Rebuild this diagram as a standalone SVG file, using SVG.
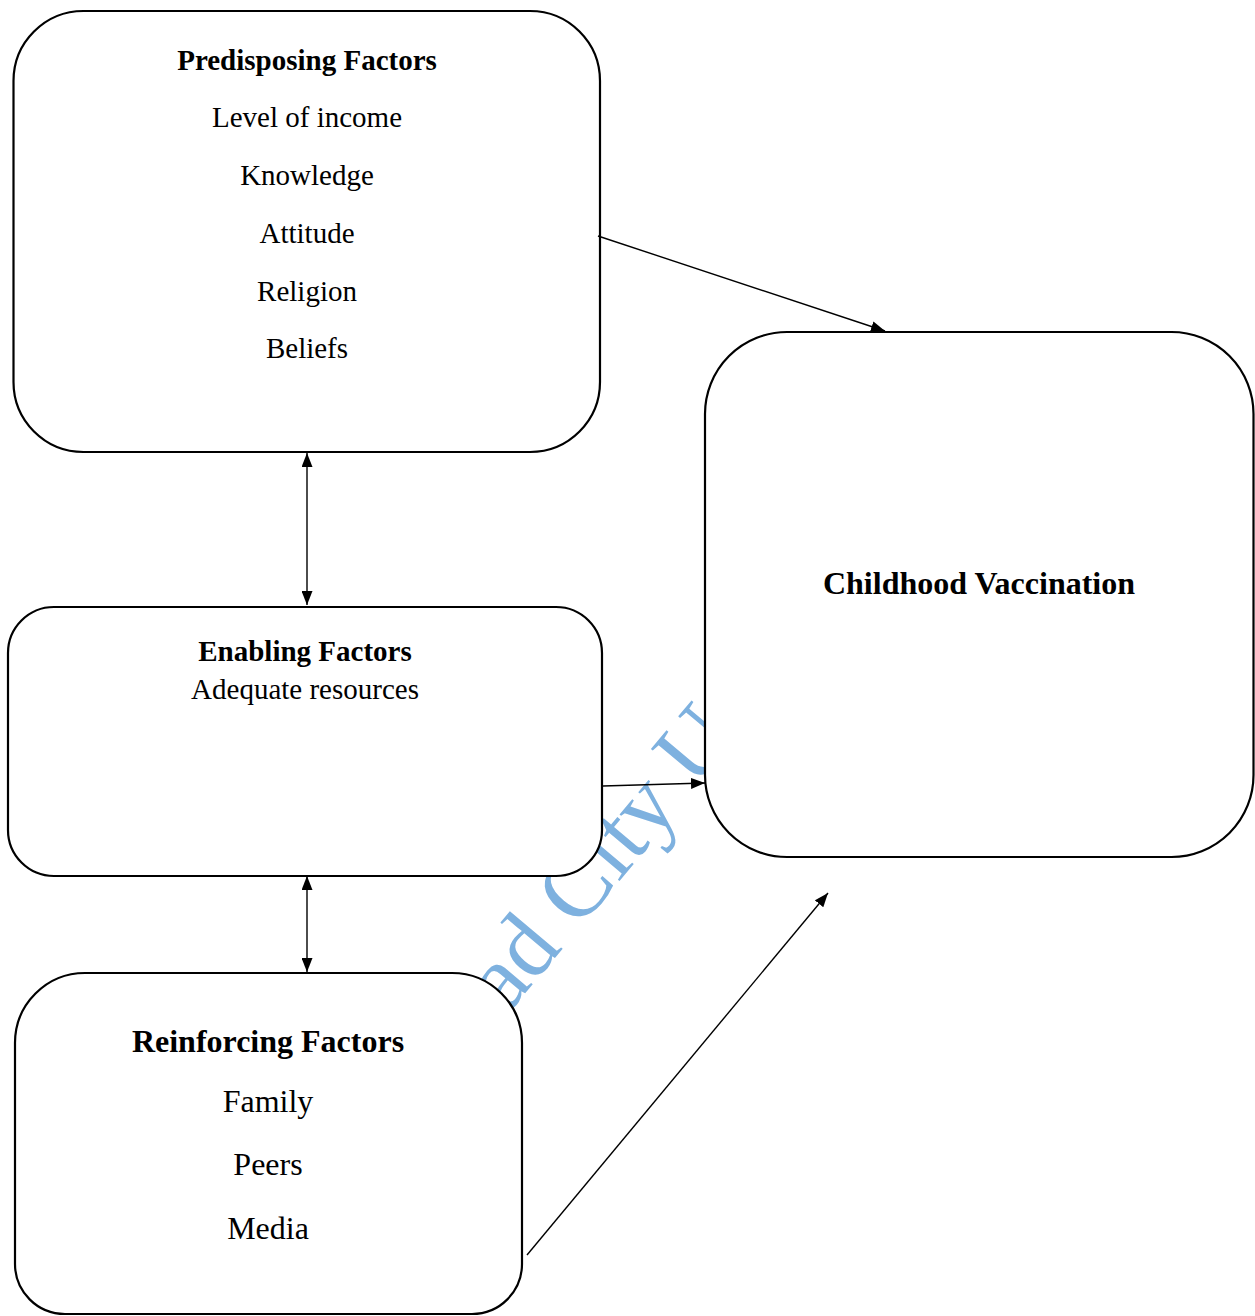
<svg xmlns="http://www.w3.org/2000/svg" width="1255" height="1316" viewBox="0 0 1255 1316">
<style>
.box{fill:#fff;stroke:#000;stroke-width:2.2}
.t{font-family:"Liberation Serif","Times New Roman",serif;fill:#000;text-anchor:middle}
.b{font-weight:bold}
.s29{font-size:29px}
.s32{font-size:32px}
.conn line{stroke:#000;stroke-width:1.4;fill:none}
.wm{font-family:"Liberation Serif","Times New Roman",serif;font-size:93px;fill:#7EB1DF}
</style>
<defs>
<marker id="ah" viewBox="0 0 14 11" refX="14" refY="5.5" markerWidth="14" markerHeight="11" markerUnits="userSpaceOnUse" orient="auto-start-reverse">
<path d="M0,0 L14,5.5 L0,11 Z" fill="#000"/>
</marker>
</defs>
<rect width="1255" height="1316" fill="#fff"/>
<text class="wm" x="507" y="1015" transform="rotate(-50 507 1015)">ad City U</text>
<g id="predisposing">
<rect class="box" x="13.5" y="11" width="586.5" height="441" rx="70" ry="70"/>
<text class="t b s29" x="307" y="70">Predisposing Factors</text>
<text class="t s29" x="307" y="127">Level of income</text>
<text class="t s29" x="307" y="185">Knowledge</text>
<text class="t s29" x="307" y="243">Attitude</text>
<text class="t s29" x="307" y="301">Religion</text>
<text class="t s29" x="307" y="358">Beliefs</text>
</g>
<g id="enabling">
<rect class="box" x="8" y="607" width="594" height="269" rx="46" ry="46"/>
<text class="t b s29" x="305" y="661">Enabling Factors</text>
<text class="t s29" x="305" y="699">Adequate resources</text>
</g>
<g id="reinforcing">
<path class="box" d="M85,973 H452 A70,70 0 0 1 522,1043 V1264 A50,50 0 0 1 472,1314 H65 A50,50 0 0 1 15,1264 V1043 A70,70 0 0 1 85,973 Z"/>
<text class="t b s32" x="268" y="1052">Reinforcing Factors</text>
<text class="t s32" x="268" y="1112">Family</text>
<text class="t s32" x="268" y="1175">Peers</text>
<text class="t s32" x="268" y="1239">Media</text>
</g>
<g id="vaccination">
<rect class="box" x="705" y="332" width="548.5" height="525" rx="82" ry="82"/>
<text class="t b s32" x="979" y="594">Childhood Vaccination</text>
</g>
<g id="connectors" class="conn">
<line x1="598" y1="236" x2="885" y2="331" marker-end="url(#ah)"/>
<line x1="307" y1="453" x2="307" y2="605" marker-start="url(#ah)" marker-end="url(#ah)"/>
<line x1="603" y1="786" x2="705" y2="783" marker-end="url(#ah)"/>
<line x1="307" y1="876" x2="307" y2="972" marker-start="url(#ah)" marker-end="url(#ah)"/>
<line x1="527" y1="1255" x2="828" y2="893" marker-end="url(#ah)"/>
</g>
</svg>
